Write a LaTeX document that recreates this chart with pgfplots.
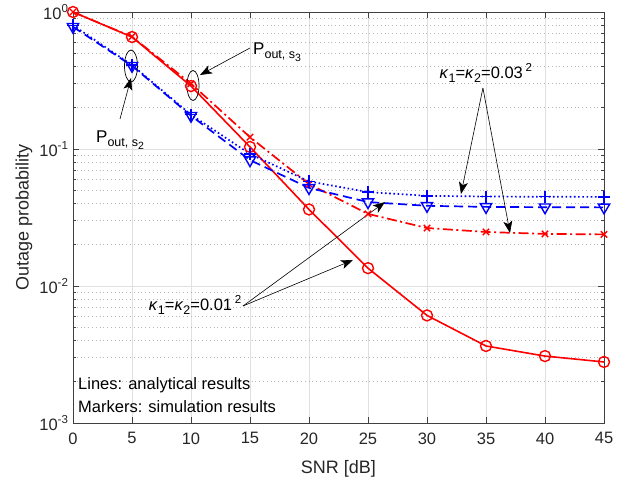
\documentclass[border=0pt]{standalone}
\usepackage{fontspec}
\setmainfont{Liberation Sans}
\usepackage{pgfplots}
\pgfplotsset{compat=1.18}
\usetikzlibrary{arrows.meta}
\newcommand{\sub}[1]{\raisebox{-0.45ex}{\fontsize{12.5}{12}\selectfont #1}}
\begin{document}
\begin{tikzpicture}
\useasboundingbox (-73pt,-54pt) rectangle (545pt,423pt);
\begin{semilogyaxis}[
  scale only axis, width=531pt, height=411pt,
  xmin=0, xmax=45, ymin=1e-3, ymax=1,
  xtick={0,5,...,45},
  ytick={1e-3,1e-2,1e-1,1},
  yticklabels={10\textsuperscript{-3},10\textsuperscript{-2},10\textsuperscript{-1},10\textsuperscript{0}},
  tick align=inside,
  xmajorgrids, ymajorgrids, yminorgrids,
  major grid style={black!12, line width=0.9pt},
  minor grid style={black!28, dash pattern=on 0.8pt off 3pt, line width=0.7pt},
  axis line style={black!75, line width=0.8pt},
  tick style={black!75, line width=0.8pt},
  major tick length=6pt, minor tick length=3pt,
  ticklabel style={font=\fontsize{16.5}{18}\selectfont, text=black!85},
  xticklabel style={yshift=-6pt},
  yticklabel style={xshift=-1pt},
  /pgf/number format/assume math mode=true,
  xlabel={SNR [dB]}, ylabel={Outage probability},
  label style={font=\fontsize{18}{20}\selectfont, text=black!85},
  xlabel style={yshift=-9pt},
  clip=false,
]
% s3, kappa = 0.01^2 : red solid, circles
\addplot[red, line width=1.6pt, mark=o, mark size=5.5pt, mark options={solid, line width=1.4pt}] coordinates {
(0,1.0) (5,0.657) (10,0.288) (15,0.1035) (20,0.0362) (25,0.0135) (30,0.0061) (35,0.00365) (40,0.00308) (45,0.00279)};
% s3, kappa = 0.03^2 : red dash-dot, x
\addplot[red, line width=1.7pt, dash pattern=on 10pt off 3.5pt on 2pt off 3.5pt, mark=x, mark size=4.5pt, mark options={solid, line width=1.4pt}] coordinates {
(0,1.0) (5,0.66) (10,0.30) (15,0.122) (20,0.0555) (25,0.0336) (30,0.0265) (35,0.0248) (40,0.0240) (45,0.0238)};
% s2, kappa = 0.03^2 : blue dotted, +
\addplot[blue, line width=1.7pt, dash pattern=on 1.6pt off 2.6pt, mark=+, mark size=6pt, mark options={solid, line width=1.4pt}] coordinates {
(0,0.80) (5,0.41) (10,0.178) (15,0.092) (20,0.058) (25,0.0485) (30,0.0455) (35,0.045) (40,0.0448) (45,0.0447)};
% s2, kappa = 0.01^2 : blue dashed, triangles down
\addplot[blue, line width=1.7pt, dash pattern=on 9pt off 5pt, mark=triangle, mark size=6.5pt, mark options={solid, rotate=180, line width=1.4pt}] coordinates {
(0,0.78) (5,0.405) (10,0.175) (15,0.083) (20,0.052) (25,0.041) (30,0.0385) (35,0.0378) (40,0.0376) (45,0.0375)};

% ellipses
\draw[black, line width=0.7pt] (rel axis cs:0.1092,0.8686) ellipse [x radius=6.5pt, y radius=16pt];
\draw[black, line width=0.7pt] (rel axis cs:0.226,0.8212) ellipse [x radius=6pt, y radius=15pt];
% arrows
\draw[black, line width=0.6pt, -{Stealth[length=12pt,width=9pt,inset=3pt]}] (rel axis cs:0.3333,0.9124) -- (rel axis cs:0.2392,0.8467);
\draw[black, line width=0.6pt, -{Stealth[length=12pt,width=9pt,inset=3pt]}] (rel axis cs:0.0885,0.7397) -- (rel axis cs:0.1092,0.8394);
\draw[black, line width=0.6pt, -{Stealth[length=12pt,width=9pt,inset=3pt]}] (rel axis cs:0.772,0.8151) -- (rel axis cs:0.7307,0.5572);
\draw[black, line width=0.6pt, -{Stealth[length=12pt,width=9pt,inset=3pt]}] (rel axis cs:0.772,0.8151) -- (rel axis cs:0.823,0.4623);
\draw[black, line width=0.6pt, -{Stealth[length=12pt,width=9pt,inset=3pt]}] (rel axis cs:0.3202,0.2847) -- (rel axis cs:0.5876,0.5377);
\draw[black, line width=0.6pt, -{Stealth[length=12pt,width=9pt,inset=3pt]}] (rel axis cs:0.3202,0.2847) -- (rel axis cs:0.5273,0.3966);
% texts
\node[anchor=west, inner sep=0pt, font=\fontsize{17}{18}\selectfont] at (rel axis cs:0.339,0.9027) {P\sub{out, s\raisebox{-0.4ex}{\fontsize{10.5}{10}\selectfont 3}}};
\node[anchor=west, inner sep=0pt, font=\fontsize{17}{18}\selectfont] at (rel axis cs:0.0433,0.6886) {P\sub{out, s\raisebox{-0.4ex}{\fontsize{10.5}{10}\selectfont 2}}};
\node[inner sep=0pt, font=\fontsize{16.5}{18}\selectfont] at (rel axis cs:0.778,0.8516) {\textit{κ}\sub{1}=\textit{κ}\sub{2}=0.03\,\textsuperscript{2}};
\node[anchor=east, inner sep=1pt, font=\fontsize{16.5}{18}\selectfont] at (rel axis cs:0.3202,0.2871) {\textit{κ}\sub{1}=\textit{κ}\sub{2}=0.01\,\textsuperscript{2}};
\node[anchor=west, inner sep=0pt, font=\fontsize{16.5}{18}\selectfont] at (rel axis cs:0.0094,0.0925) {Lines: analytical results};
\node[anchor=west, inner sep=0pt, font=\fontsize{16.5}{18}\selectfont] at (rel axis cs:0.0094,0.0389) {Markers: simulation results};
\end{semilogyaxis}
\end{tikzpicture}
\end{document}
